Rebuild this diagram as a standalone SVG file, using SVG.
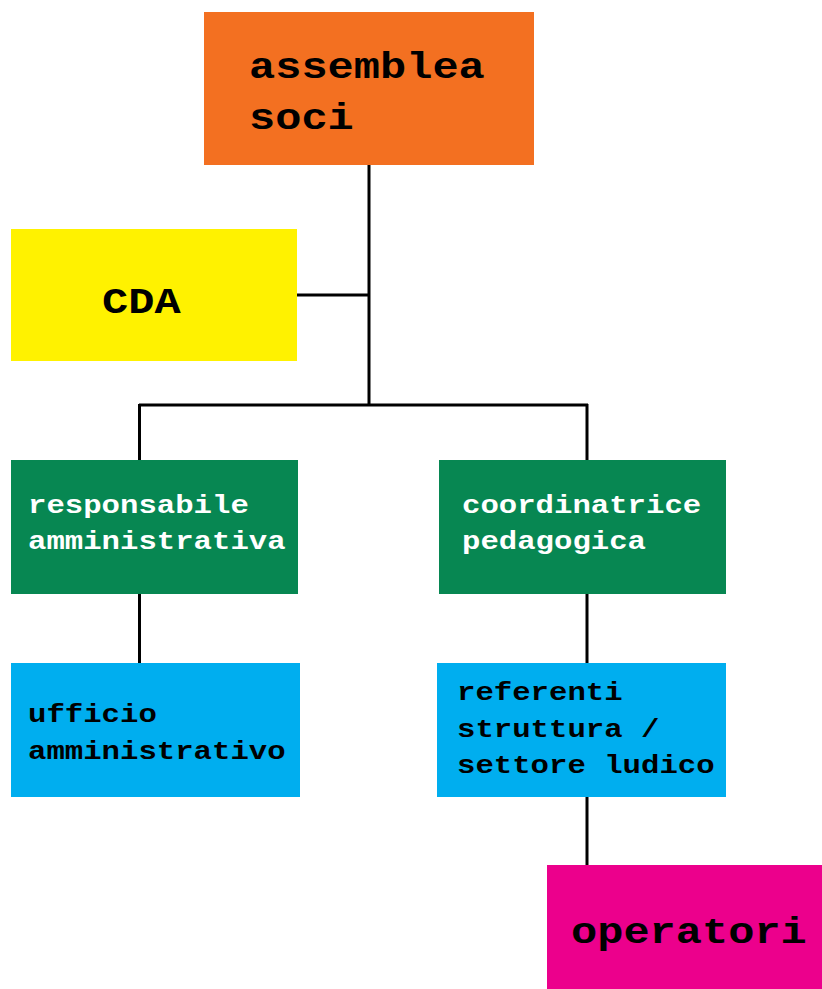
<svg xmlns="http://www.w3.org/2000/svg" width="822" height="989" viewBox="0 0 822 989">
<style>
.t{font-family:"Liberation Mono","Courier New",monospace;font-weight:bold}
.big{font-size:37px;fill:#000}
.sm{font-size:26px}
.w{fill:#fff}
.k{fill:#000}
.ln{stroke:#000;stroke-width:3;fill:none}
</style>
<rect width="822" height="989" fill="#fff"/>
<g id="connectors">
<path class="ln" d="M369 165V405M297 295H369M139 405H588M139.5 404V460M587 404V460M139.5 594V663M587 594V663M587 797V865"/>
</g>
<g id="assemblea">
<rect x="204" y="12" width="330" height="153" fill="#F37021"/>
<text class="t big" x="249" y="78" textLength="235.8" lengthAdjust="spacingAndGlyphs">assemblea</text>
<text class="t big" x="249" y="129" textLength="104.8" lengthAdjust="spacingAndGlyphs">soci</text>
</g>
<g id="cda">
<rect x="11" y="229" width="286" height="132" fill="#FFF200"/>
<text class="t big" x="102" y="313" textLength="78.6" lengthAdjust="spacingAndGlyphs">CDA</text>
</g>
<g id="responsabile">
<rect x="11" y="460" width="287" height="134" fill="#078752"/>
<text class="t sm w" x="28" y="513" textLength="220.8" lengthAdjust="spacingAndGlyphs">responsabile</text>
<text class="t sm w" x="28" y="549" textLength="257.6" lengthAdjust="spacingAndGlyphs">amministrativa</text>
</g>
<g id="coordinatrice">
<rect x="439" y="460" width="287" height="134" fill="#078752"/>
<text class="t sm w" x="462" y="513" textLength="239.2" lengthAdjust="spacingAndGlyphs">coordinatrice</text>
<text class="t sm w" x="462" y="549" textLength="184" lengthAdjust="spacingAndGlyphs">pedagogica</text>
</g>
<g id="ufficio">
<rect x="11" y="663" width="289" height="134" fill="#00AEEF"/>
<text class="t sm k" x="28" y="722" textLength="128.8" lengthAdjust="spacingAndGlyphs">ufficio</text>
<text class="t sm k" x="28" y="759" textLength="257.6" lengthAdjust="spacingAndGlyphs">amministrativo</text>
</g>
<g id="referenti">
<rect x="437" y="663" width="289" height="134" fill="#00AEEF"/>
<text class="t sm k" x="457" y="700" textLength="165.6" lengthAdjust="spacingAndGlyphs">referenti</text>
<text class="t sm k" x="457" y="737" textLength="202.4" lengthAdjust="spacingAndGlyphs">struttura /</text>
<text class="t sm k" x="457" y="773" textLength="257.6" lengthAdjust="spacingAndGlyphs">settore ludico</text>
</g>
<g id="operatori">
<rect x="547" y="865" width="275" height="124" fill="#EC008C"/>
<text class="t big" x="571" y="943" textLength="235.8" lengthAdjust="spacingAndGlyphs">operatori</text>
</g>
</svg>
